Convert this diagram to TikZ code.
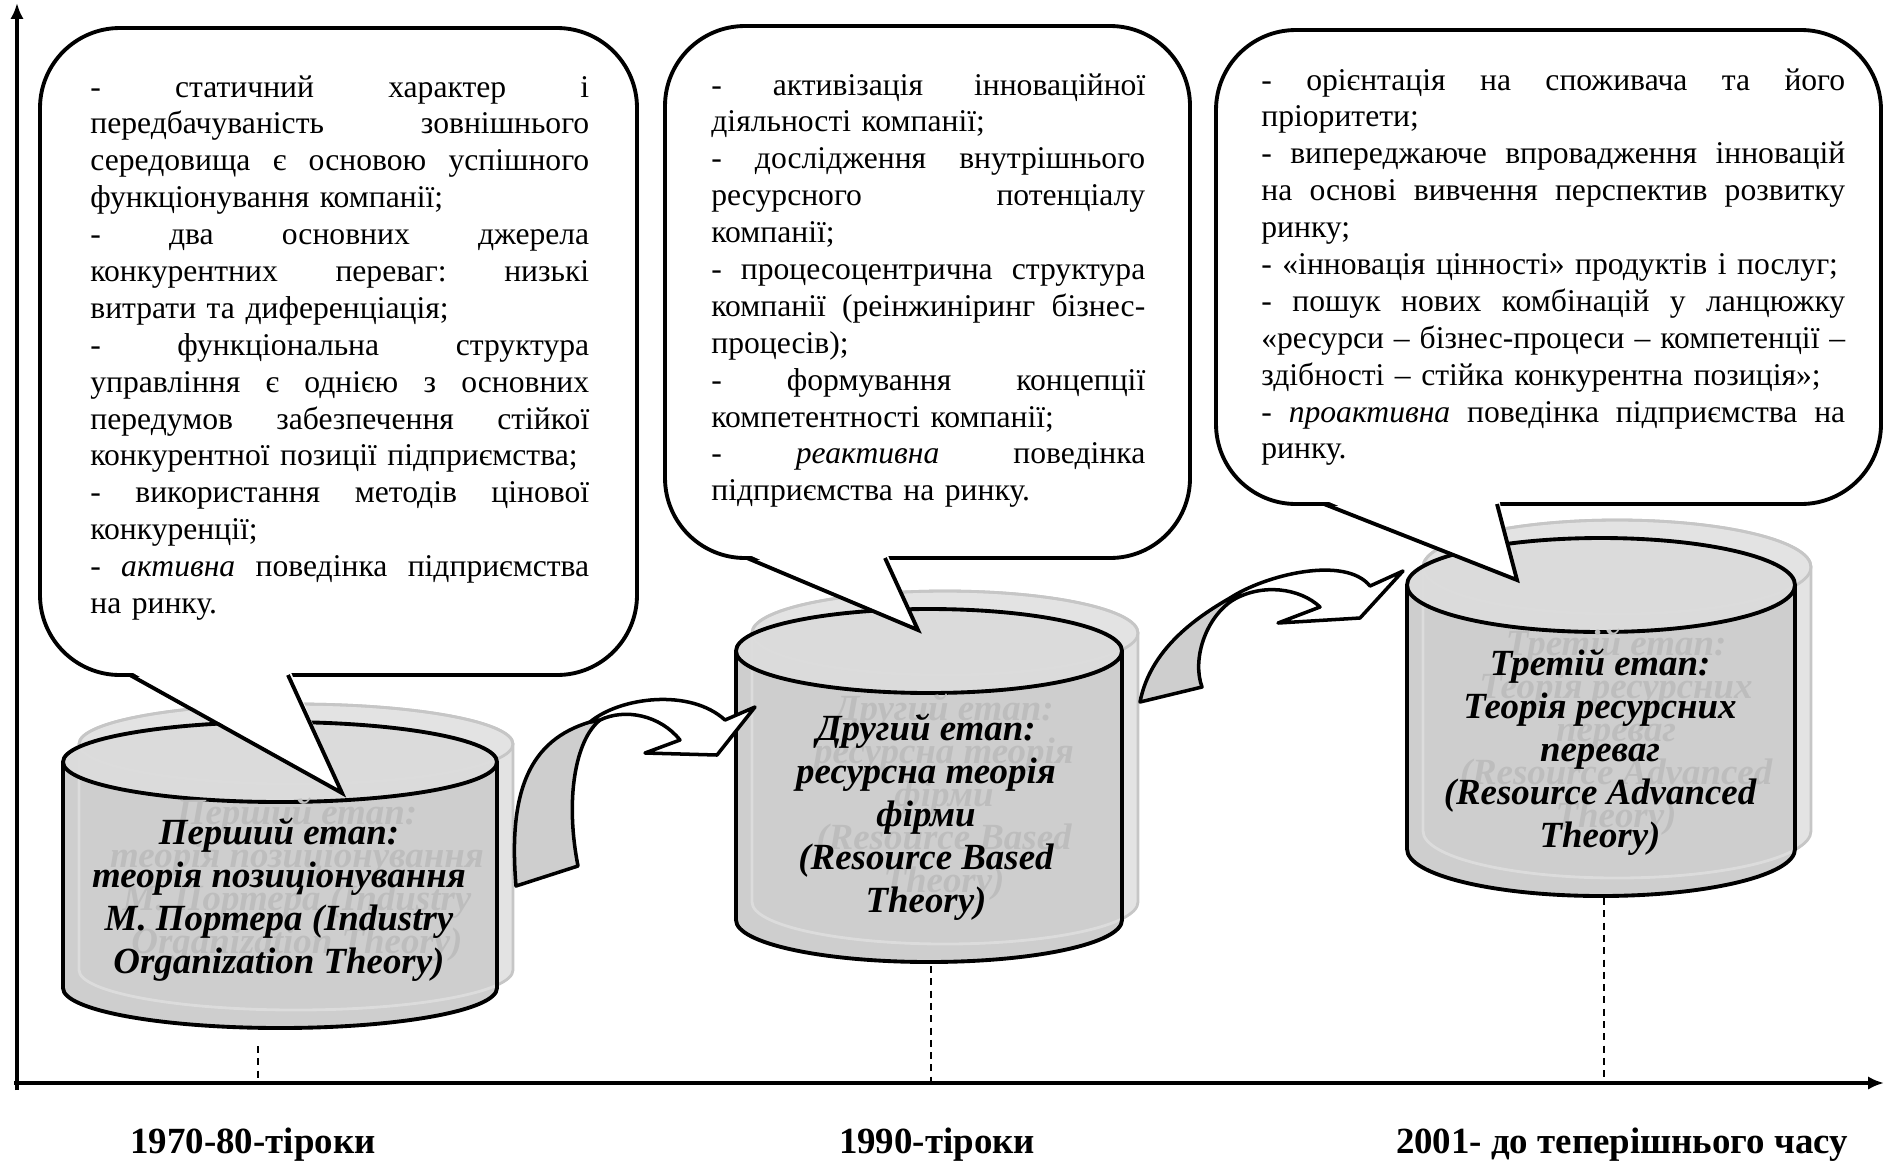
\documentclass[tikz,border=0pt]{standalone}
\usepackage{fontspec}
\setmainfont{Liberation Serif}
\usetikzlibrary{arrows.meta}

\definecolor{drumbody}{HTML}{CECECE}
\definecolor{drumtop}{HTML}{DBDBDB}
\definecolor{shadefill}{HTML}{E3E3E3}
\definecolor{shadeline}{HTML}{C6C6C6}
\definecolor{shadein}{HTML}{DCDCDC}
\definecolor{shadetext}{HTML}{BDBDBD}

\tikzset{
	bubble/.style={draw=black, line width=2.2pt, fill=white},
	bubbletext/.style={anchor=base west, inner sep=0pt, align=left, font=\fontsize{18}{21}\selectfont},
	stagetext/.style={inner sep=0pt, align=center, font=\fontsize{21}{24.5}\selectfont\bfseries\itshape},
	yeartext/.style={anchor=base, inner sep=0pt, font=\fontsize{21}{24.5}\selectfont\bfseries},
	curlarrow/.style={draw=black, line width=2pt, line join=round},
	axisline/.style={line width=2.2pt, -{Latex[length=9pt,width=7.5pt]}},
	guide/.style={line width=1.6pt, dash pattern=on 4pt off 3pt},
}

% justified line inside a bubble, \bw is the bubble's text width
\newlength{\bw}
\newcommand{\jl}[1]{\leavevmode\hbox to \bw{\spaceskip=.25em plus 1fil\xspaceskip=.25em plus 1fil\relax #1}\\}

% cylinder with its pale shadow: centre x, top y, bottom y, x radius, y radius (px, y down)
\newcommand{\drum}[5]{%
	\begin{scope}[shift={(#1+16,-#2+18)}]
		\filldraw[fill=shadefill, draw=shadeline, line width=1.6pt] (-#4,0) -- (-#4,#2-#3) arc[start angle=180, end angle=360, x radius=#4*0.02cm, y radius=#5*0.02cm] -- (#4,0) arc[start angle=0, end angle=180, x radius=#4*0.02cm, y radius=#5*0.02cm] -- cycle;
		\draw[shadeline, line width=1.6pt] (0,0) ellipse[x radius=#4*0.02cm, y radius=#5*0.02cm];
	\end{scope}
	\begin{scope}[shift={(#1,-#2)}]
		\fill[drumbody] (-#4,0) -- (-#4,#2-#3) arc[start angle=180, end angle=360, x radius=#4*0.02cm, y radius=#5*0.02cm] -- (#4,0) arc[start angle=0, end angle=180, x radius=#4*0.02cm, y radius=#5*0.02cm] -- cycle;
		\fill[drumtop] (0,0) ellipse[x radius=#4*0.02cm, y radius=#5*0.02cm];
		\begin{scope}
			\clip (-#4,0) -- (-#4,#2-#3) arc[start angle=180, end angle=360, x radius=#4*0.02cm, y radius=#5*0.02cm] -- (#4,0) arc[start angle=0, end angle=180, x radius=#4*0.02cm, y radius=#5*0.02cm] -- cycle;
			\draw[shadein, line width=1.6pt, shift={(16,18)}] (-#4,0) -- (-#4,#2-#3) arc[start angle=180, end angle=360, x radius=#4*0.02cm, y radius=#5*0.02cm] -- (#4,0);
			\draw[shadein, line width=1.6pt, shift={(16,18)}] (0,0) ellipse[x radius=#4*0.02cm, y radius=#5*0.02cm];
		\end{scope}
		\draw[line width=2.2pt] (-#4,0) -- (-#4,#2-#3) arc[start angle=180, end angle=360, x radius=#4*0.02cm, y radius=#5*0.02cm] -- (#4,0);
		\draw[line width=2.2pt] (0,0) ellipse[x radius=#4*0.02cm, y radius=#5*0.02cm];
	\end{scope}
}

\begin{document}
\begin{tikzpicture}[x=0.02cm, y=0.02cm]
	\useasboundingbox (0,0) rectangle (1885,-1160);

	% the three stages
	\drum{280}{762}{988}{217}{40}
	\drum{929}{651}{920}{193}{42}
	\drum{1601}{585}{849}{194}{47}

	\node[stagetext, text=shadetext] (S1b) at (297,-880) {Перший етап:\\теорія позиціонування\\М. Портера (Industry\\Organization Theory)};
	\node[stagetext] (S1) at (279,-900) {Перший етап:\\теорія позиціонування\\М. Портера (Industry\\Organization Theory)};
	\node[stagetext, text=shadetext] (S2b) at (944,-797) {Другий етап:\\ресурсна теорія\\фірми\\(Resource Based\\Theory)};
	\node[stagetext] (S2) at (926,-817) {Другий етап:\\ресурсна теорія\\фірми\\(Resource Based\\Theory)};
	\node[stagetext, text=shadetext] (S3b) at (1616,-732) {Третій етап:\\Теорія ресурсних\\переваг\\(Resource Advanced\\Theory)};
	\node[stagetext] (S3) at (1600,-752) {Третій етап:\\Теорія ресурсних\\переваг\\(Resource Advanced\\Theory)};

	% bubbles
	\draw[bubble, rounded corners=1.6cm] (40,-28) rectangle (637,-675);
	\fill[white] (128,-670) -- (342,-793) -- (290,-670) -- cycle;
	\draw[line width=2.2pt] (130,-675) -- (342,-793) -- (288,-675);

	\draw[bubble, rounded corners=1.6cm] (665,-26) rectangle (1190,-558);
	\fill[white] (745,-553) -- (918,-630) -- (887,-553) -- cycle;
	\draw[line width=2.2pt] (747,-558) -- (918,-630) -- (885,-558);

	\draw[bubble, rounded corners=1.6cm] (1216,-30) rectangle (1881,-504);
	\fill[white] (1322,-499) -- (1517,-580) -- (1499,-499) -- cycle;
	\draw[line width=2.2pt] (1324,-504) -- (1517,-580) -- (1497,-504);

	\node[bubbletext, text width=9.98cm] (P1) at (90,-97) {\setlength{\bw}{9.98cm}%
		\jl{- статичний характер і}
		\jl{передбачуваність зовнішнього}
		\jl{середовища є основою успішного}
		функціонування компанії;\\
		\jl{- два основних джерела}
		\jl{конкурентних переваг: низькі}
		витрати та диференціація;\\
		\jl{- функціональна структура}
		\jl{управління є однією з основних}
		\jl{передумов забезпечення стійкої}
		конкурентної позиції підприємства;\\
		\jl{- використання методів цінової}
		конкуренції;\\
		\jl{- \textit{активна} поведінка підприємства}
		на ринку.};
	\node[bubbletext, text width=8.68cm] (P2) at (711,-95) {\setlength{\bw}{8.68cm}%
		\jl{- активізація інноваційної}
		діяльності компанії;\\
		\jl{- дослідження внутрішнього}
		\jl{ресурсного потенціалу}
		компанії;\\
		\jl{- процесоцентрична структура}
		\jl{компанії (реінжиніринг бізнес-}
		процесів);\\
		\jl{- формування концепції}
		компетентності компанії;\\
		\jl{- \textit{реактивна} поведінка}
		підприємства на ринку.};
	\node[bubbletext, text width=11.68cm] (P3) at (1261,-90) {\setlength{\bw}{11.68cm}%
		\jl{- орієнтація на споживача та його}
		пріоритети;\\
		\jl{- випереджаюче впровадження інновацій}
		\jl{на основі вивчення перспектив розвитку}
		ринку;\\
		- «інновація цінності» продуктів і послуг;\\
		\jl{- пошук нових комбінацій у ланцюжку}
		\jl{«ресурси – бізнес-процеси – компетенції –}
		здібності – стійка конкурентна позиція»;\\
		\jl{- \textit{проактивна} поведінка підприємства на}
		ринку.};

	% curved block arrows
	\filldraw[curlarrow, fill=drumbody] (590,-722) .. controls (530,-740) and (508,-790) .. (516,-886) -- (578,-866) .. controls (565,-800) and (575,-740) .. (600,-720) -- cycle;
	\filldraw[curlarrow, fill=white] (590,-722) .. controls (620,-697) and (690,-688) .. (725,-720) -- (755,-707) -- (717,-755) -- (645,-753) -- (680,-740) .. controls (660,-715) and (625,-708) .. (600,-720) -- cycle;

	\filldraw[curlarrow, fill=drumbody] (1230,-598) .. controls (1195,-618) and (1150,-650) .. (1140,-702) -- (1202,-687) .. controls (1192,-660) and (1205,-618) .. (1233,-600) -- cycle;
	\filldraw[curlarrow, fill=white] (1230,-598) .. controls (1265,-575) and (1345,-555) .. (1370,-586) -- (1403,-571) -- (1360,-618) -- (1278,-623) -- (1320,-607) .. controls (1300,-588) and (1262,-583) .. (1233,-600) -- cycle;

	% axes and guides
	\coordinate (O) at (17,-1083);
	\coordinate (G1) at (258,-1046);
	\coordinate (G2) at (931,-966);
	\coordinate (G3) at (1604,-898);
	\draw[guide] (G1) -- (G1 |- O);
	\draw[guide] (G2) -- (G2 |- O);
	\draw[guide] (G3) -- (G3 |- O);
	\draw[axisline] (17,-1090) -- (17,-3);
	\draw[axisline] (14,-1083) -- (1884,-1083);

	\node[yeartext] (Y1) at (253,-1153) {1970-80-тіроки};
	\node[yeartext] (Y2) at (937,-1153) {1990-тіроки};
	\node[yeartext] (Y3) at (1622,-1153) {2001- до теперішнього часу};
\end{tikzpicture}
\end{document}
